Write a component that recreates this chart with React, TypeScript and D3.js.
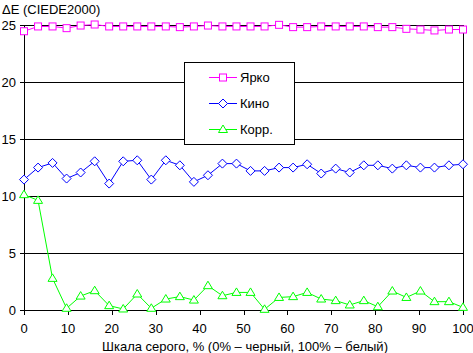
import * as d3 from 'd3';
import React from 'react';

const WIDTH = 473, HEIGHT = 353;
const M = { left: 24, right: 10, top: 24.5, bottom: 43 };

// gray levels, % (x values)
const grayLevels = [0, 3.2, 6.5, 9.7, 12.9, 16.1, 19.4, 22.6, 25.8, 29, 32.3, 35.5, 38.7, 41.9, 45.2, 48.4,
    51.6, 54.8, 58.1, 61.3, 64.5, 67.7, 71, 74.2, 77.4, 80.6, 83.9, 87.1, 90.3, 93.5, 96.8, 100];

const yarko = [24.41, 24.83, 24.83, 24.68, 24.91, 25.0, 24.83, 24.83, 24.83, 24.83, 24.83, 24.77, 24.83, 24.91, 24.83, 24.83,
    24.83, 24.83, 24.97, 24.77, 24.77, 24.83, 24.83, 24.83, 24.83, 24.77, 24.77, 24.62, 24.56, 24.48, 24.56, 24.56];

const kino = [11.42, 12.47, 12.88, 11.51, 12.04, 13.02, 11.07, 13.02, 13.11, 11.42, 13.11, 12.67, 11.22, 11.8, 12.82, 12.82,
    12.18, 12.18, 12.47, 12.47, 12.76, 11.95, 12.38, 12.04, 12.67, 12.67, 12.38, 12.67, 12.47, 12.47, 12.67, 12.76];

const korr = [10.1, 9.6, 2.77, 0.15, 1.22, 1.69, 0.38, 0.09, 1.4, 0.15, 0.96, 1.17, 0.87, 2.13, 1.25, 1.54,
    1.54, 0.06, 1.1, 1.17, 1.54, 0.96, 0.82, 0.44, 0.82, 0.29, 1.66, 1.1, 1.66, 0.73, 0.73, 0.23];

const xTicks = [0, 10, 20, 30, 40, 50, 60, 70, 80, 90, 100];
const yTicks = [0, 5, 10, 15, 20, 25];

const series = [
    { name: 'Ярко', values: yarko, color: '#ff00ff', marker: 'square' },
    { name: 'Кино', values: kino, color: '#0000ff', marker: 'diamond' },
    { name: 'Корр.', values: korr, color: '#00ff00', marker: 'triangle' },
];

const x = d3.scaleLinear().domain([0, 100]).range([M.left, WIDTH - M.right]);
const y = d3.scaleLinear().domain([0, 25]).range([HEIGHT - M.bottom, M.top]);

const FONT = '"Liberation Sans", Arial, sans-serif';

const Marker = ({ type, cx, cy, color }: { type: string, cx: number, cy: number, color: string }) => {
    if (type === 'square') {
        return <rect x={cx - 3.5} y={cy - 3.5} width={7} height={7} fill="#fff" stroke={color} strokeWidth={1} />;
    }
    if (type === 'diamond') {
        return <path d={`M${cx},${cy - 4.5}L${cx + 4.5},${cy}L${cx},${cy + 4.5}L${cx - 4.5},${cy}Z`} fill="#fff" stroke={color} strokeWidth={1} />;
    }
    return <path d={`M${cx},${cy - 4.5}L${cx + 4.5},${cy + 3}L${cx - 4.5},${cy + 3}Z`} fill="#fff" stroke={color} strokeWidth={1} />;
};

const App = () => {
    const line = d3.line<number>()
        .x((_, i) => x(grayLevels[i]))
        .y(d => y(d));

    const legend = { x: 184.5, y: 62.5, w: 110, h: 82 };
    const rows = [77, 103, 129];

    return (
        <svg width={WIDTH} height={HEIGHT} style={{ position: 'absolute', left: 0, top: 0, background: '#fff' }}
            fontFamily={FONT}>
            {/* grid */}
            {yTicks.map(t => (
                <g key={t}>
                    <line x1={M.left - 4} x2={WIDTH - M.right} y1={Math.round(y(t)) + 0.5} y2={Math.round(y(t)) + 0.5} stroke="#000" />
                    <text x={16} y={Math.round(y(t)) + 5} fontSize={13} textAnchor="end">{t}</text>
                </g>
            ))}
            <line x1={M.left + 0.5} x2={M.left + 0.5} y1={Math.round(y(25))} y2={Math.round(y(0)) + 1} stroke="#000" />
            <line x1={Math.round(x(100)) + 0.5} x2={Math.round(x(100)) + 0.5} y1={Math.round(y(25))} y2={Math.round(y(0)) + 1} stroke="#000" />
            {xTicks.map(t => (
                <g key={t}>
                    <line x1={Math.round(x(t)) + 0.5} x2={Math.round(x(t)) + 0.5} y1={Math.round(y(0))} y2={Math.round(y(0)) + 5} stroke="#000" />
                    <text x={x(t)} y={333} fontSize={13} textAnchor="middle">{t}</text>
                </g>
            ))}
            <text x={2} y={14} fontSize={13}>ΔE (CIEDE2000)</text>
            <text x={245} y={351} fontSize={13} textAnchor="middle">Шкала серого, % (0% – черный, 100% – белый)</text>

            {series.map(s => (
                <g key={s.name}>
                    <path d={line(s.values) || ''} fill="none" stroke={s.color} strokeWidth={1} />
                    {s.values.map((v, i) => (
                        <Marker key={i} type={s.marker} cx={x(grayLevels[i])} cy={y(v)} color={s.color} />
                    ))}
                </g>
            ))}

            {/* legend */}
            <rect x={legend.x} y={legend.y} width={legend.w} height={legend.h} fill="#fff" stroke="#000" />
            {series.map((s, i) => (
                <g key={s.name}>
                    <line x1={209} x2={237} y1={rows[i] + 0.5} y2={rows[i] + 0.5} stroke={s.color} />
                    <Marker type={s.marker} cx={223} cy={rows[i] + 0.5} color={s.color} />
                    <text x={240} y={rows[i] + 5} fontSize={13}>{s.name}</text>
                </g>
            ))}
        </svg>
    );
};

export default App;
